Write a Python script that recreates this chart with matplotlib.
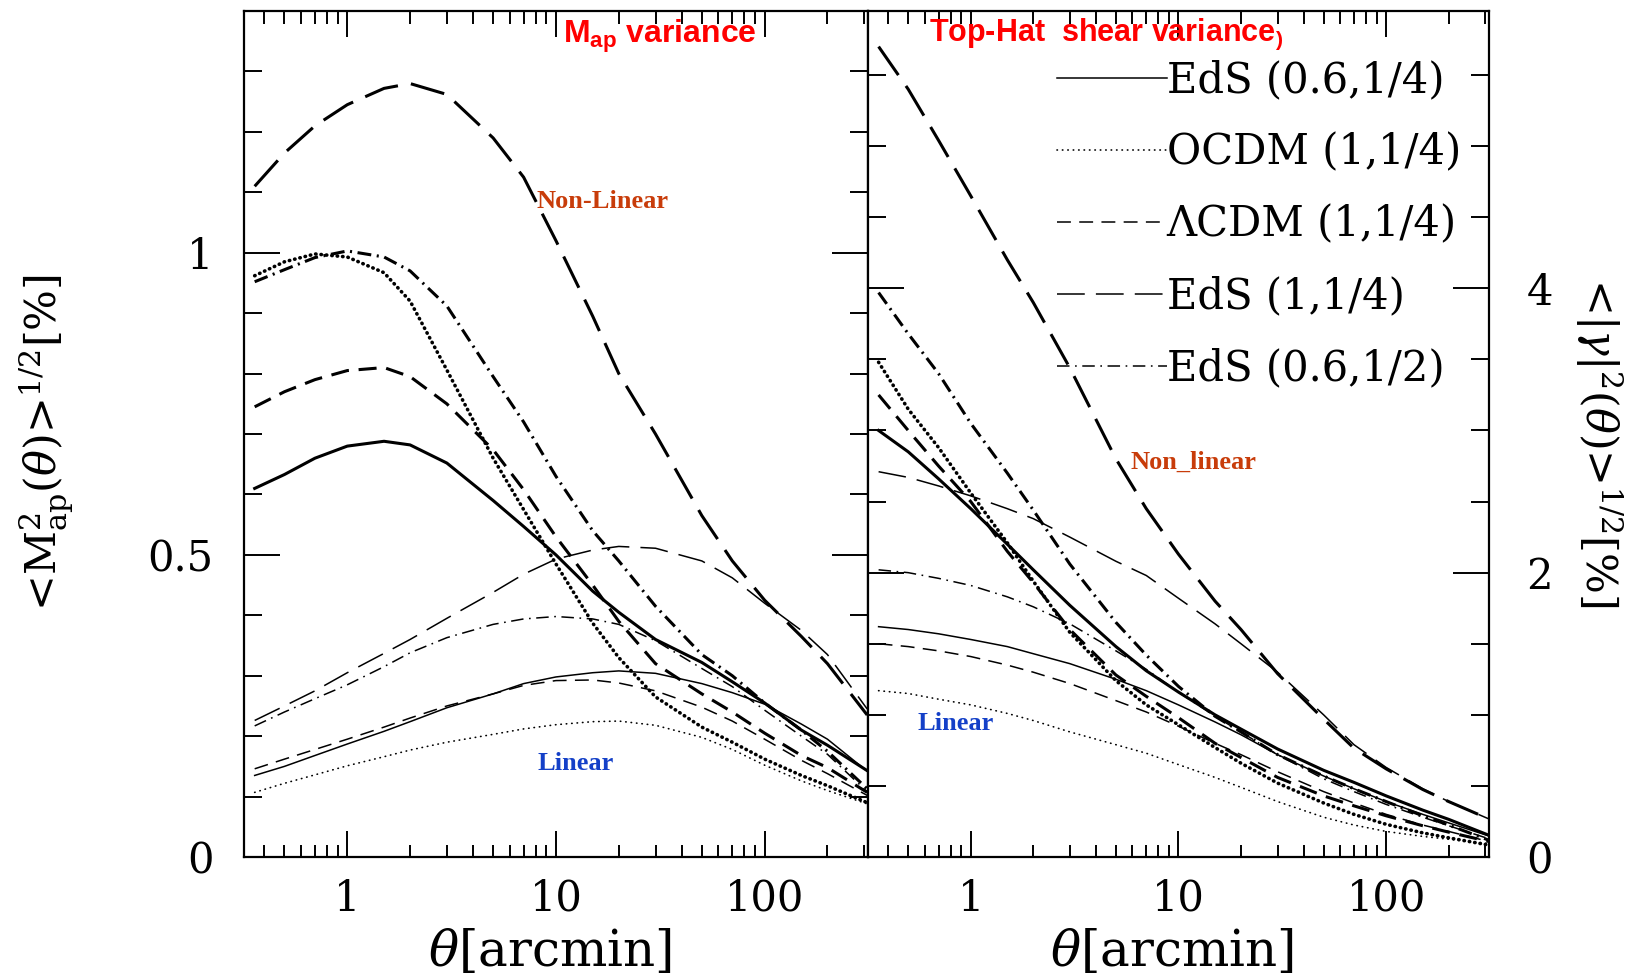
#two panel plot: aperture mass variance (left) and top-hat shear variance (right)
#thick lines are the non-linear predictions, thin lines the linear ones
import numpy as np
import matplotlib
matplotlib.use('Agg')
from matplotlib import pyplot as plt
from matplotlib.ticker import FixedLocator, FixedFormatter, NullFormatter

#angular scale in arcmin, shared by all curves
theta = [0.36, 0.5, 0.7, 1, 1.5, 2, 3, 5, 7, 10, 15, 20, 30, 50, 70, 100, 150, 200, 310]

#model names in legend order
models = ['EdS (0.6,1/4)', 'OCDM (1,1/4)', 'ΛCDM (1,1/4)', 'EdS (1,1/4)', 'EdS (0.6,1/2)']

#left panel: <M_ap^2>^1/2 [%], non-linear
map_nl_eds06_14 = [0.61, 0.633, 0.66, 0.68, 0.688, 0.682, 0.652, 0.59, 0.547, 0.50, 0.44, 0.405, 0.36, 0.322, 0.29, 0.255, 0.21, 0.185, 0.143]
map_nl_ocdm = [0.962, 0.985, 0.998, 0.993, 0.967, 0.92, 0.806, 0.66, 0.575, 0.485, 0.387, 0.33, 0.265, 0.215, 0.19, 0.162, 0.135, 0.118, 0.09]
map_nl_lcdm = [0.745, 0.77, 0.79, 0.805, 0.81, 0.795, 0.75, 0.674, 0.608, 0.53, 0.45, 0.39, 0.32, 0.27, 0.24, 0.205, 0.168, 0.148, 0.107]
map_nl_eds1_14 = [1.11, 1.165, 1.21, 1.245, 1.272, 1.28, 1.262, 1.19, 1.125, 1.02, 0.895, 0.80, 0.70, 0.565, 0.49, 0.425, 0.365, 0.32, 0.235]
map_nl_eds06_12 = [0.952, 0.972, 0.992, 1.003, 0.993, 0.97, 0.912, 0.795, 0.72, 0.63, 0.54, 0.49, 0.415, 0.335, 0.30, 0.255, 0.21, 0.175, 0.113]
#left panel, linear
map_l_eds06_14 = [0.135, 0.15, 0.168, 0.187, 0.208, 0.224, 0.247, 0.27, 0.287, 0.298, 0.305, 0.308, 0.304, 0.287, 0.272, 0.253, 0.22, 0.195, 0.142]
map_l_ocdm = [0.107, 0.122, 0.136, 0.151, 0.166, 0.177, 0.19, 0.203, 0.212, 0.219, 0.224, 0.225, 0.218, 0.198, 0.178, 0.152, 0.126, 0.11, 0.088]
map_l_lcdm = [0.146, 0.162, 0.178, 0.195, 0.215, 0.23, 0.25, 0.27, 0.284, 0.292, 0.293, 0.288, 0.275, 0.248, 0.225, 0.195, 0.16, 0.138, 0.102]
map_l_eds1_14 = [0.226, 0.25, 0.275, 0.305, 0.337, 0.36, 0.395, 0.438, 0.468, 0.493, 0.508, 0.514, 0.511, 0.49, 0.462, 0.42, 0.375, 0.335, 0.245]
map_l_eds06_12 = [0.217, 0.24, 0.262, 0.285, 0.315, 0.338, 0.363, 0.385, 0.394, 0.398, 0.394, 0.385, 0.358, 0.312, 0.282, 0.243, 0.2, 0.17, 0.108]

#right panel: <|gamma|^2>^1/2 [%], non-linear
th_nl_eds06_14 = [3.0, 2.85, 2.66, 2.45, 2.2, 2.02, 1.77, 1.48, 1.31, 1.16, 1.0, 0.9, 0.76, 0.61, 0.525, 0.43, 0.33, 0.265, 0.155]
th_nl_ocdm = [3.48, 3.15, 2.88, 2.56, 2.21, 1.94, 1.58, 1.24, 1.07, 0.93, 0.77, 0.66, 0.52, 0.38, 0.30, 0.23, 0.17, 0.135, 0.085]
th_nl_lcdm = [3.25, 3.0, 2.75, 2.5, 2.15, 1.93, 1.6, 1.28, 1.13, 0.98, 0.8, 0.7, 0.56, 0.43, 0.36, 0.29, 0.22, 0.175, 0.11]
th_nl_eds1_14 = [5.70, 5.4, 5.04, 4.65, 4.2, 3.9, 3.44, 2.8, 2.45, 2.13, 1.8, 1.6, 1.29, 0.97, 0.765, 0.62, 0.475, 0.39, 0.27]
th_nl_eds06_12 = [3.97, 3.68, 3.40, 3.05, 2.70, 2.44, 2.06, 1.65, 1.42, 1.2, 0.99, 0.88, 0.72, 0.57, 0.48, 0.39, 0.29, 0.225, 0.12]
#right panel, linear
th_l_eds06_14 = [1.62, 1.6, 1.57, 1.53, 1.48, 1.43, 1.36, 1.25, 1.17, 1.07, 0.95, 0.86, 0.72, 0.57, 0.48, 0.39, 0.3, 0.24, 0.15]
th_l_ocdm = [1.17, 1.15, 1.11, 1.07, 1.01, 0.96, 0.88, 0.79, 0.73, 0.65, 0.56, 0.49, 0.39, 0.28, 0.225, 0.18, 0.145, 0.125, 0.095]
th_l_lcdm = [1.5, 1.48, 1.45, 1.41, 1.35, 1.3, 1.22, 1.1, 1.02, 0.92, 0.8, 0.72, 0.6, 0.46, 0.38, 0.3, 0.225, 0.18, 0.11]
th_l_eds1_14 = [2.71, 2.67, 2.61, 2.54, 2.45, 2.38, 2.25, 2.08, 1.98, 1.82, 1.64, 1.5, 1.3, 1.0, 0.79, 0.63, 0.48, 0.39, 0.27]
th_l_eds06_12 = [2.02, 2.0, 1.96, 1.91, 1.83, 1.76, 1.64, 1.45, 1.32, 1.16, 0.99, 0.88, 0.72, 0.55, 0.46, 0.37, 0.28, 0.22, 0.13]

map_nl = [map_nl_eds06_14, map_nl_ocdm, map_nl_lcdm, map_nl_eds1_14, map_nl_eds06_12]
map_l = [map_l_eds06_14, map_l_ocdm, map_l_lcdm, map_l_eds1_14, map_l_eds06_12]
th_nl = [th_nl_eds06_14, th_nl_ocdm, th_nl_lcdm, th_nl_eds1_14, th_nl_eds06_12]
th_l = [th_l_eds06_14, th_l_ocdm, th_l_lcdm, th_l_eds1_14, th_l_eds06_12]

plt.rcParams['font.family'] = 'DejaVu Serif'
plt.rcParams['mathtext.fontset'] = 'dejavuserif'
#custom math font only used by the red titles
plt.rcParams['mathtext.rm'] = 'Liberation Sans:bold'
plt.rcParams['mathtext.bf'] = 'Liberation Sans:bold'
plt.rcParams['mathtext.it'] = 'Liberation Sans:bold'
plt.rcParams['lines.scale_dashes'] = False


#line style for each model, thick (non-linear) or thin (linear)
def line_style(i, thick):
    lw = 2.2 if thick else 1.1
    if i == 0:
        return dict(color='black', lw=lw, ls='-')
    if i == 1:
        return dict(color='black', lw=lw + 0.4 if thick else 1.2, dashes=(0.3, 3.6), dash_capstyle='round')
    if i == 2:
        return dict(color='black', lw=lw, dashes=(13, 7) if thick else (10, 6))
    if i == 3:
        return dict(color='black', lw=lw, dashes=(25, 9.5) if thick else (20, 8))
    return dict(color='black', lw=lw, dashes=(10, 4, 1.5, 4) if thick else (9, 4, 1.2, 4))


fig = plt.figure(figsize=(16.33, 9.77), dpi=100)
ax1 = fig.add_axes([0.1494, 0.1228, 0.3821, 0.8659])
ax2 = fig.add_axes([0.5315, 0.1228, 0.3803, 0.8659])

for ax, nl, lin in [(ax1, map_nl, map_l), (ax2, th_nl, th_l)]:
    for i in range(len(models)):
        ax.plot(theta, nl[i], **line_style(i, True))
        ax.plot(theta, lin[i], label=models[i], **line_style(i, False))
    ax.set_xscale('log')
    ax.set_xlim(10 ** -0.495, 10 ** 2.495)
    ax.xaxis.set_major_locator(FixedLocator([1, 10, 100]))
    ax.xaxis.set_major_formatter(FixedFormatter(['1', '10', '100']))
    minors = [m * 10.0 ** e for e in (-1, 0, 1, 2) for m in range(2, 10)]
    ax.xaxis.set_minor_locator(FixedLocator(minors))
    ax.xaxis.set_minor_formatter(NullFormatter())
    ax.tick_params(which='both', direction='in', top=True, bottom=True, left=True, right=True,
                   width=1.4, color='black')
    ax.tick_params(axis='x', which='major', length=19, pad=15, labelsize=30)
    ax.tick_params(axis='x', which='minor', length=9)
    ax.tick_params(axis='y', which='major', length=26)
    ax.tick_params(axis='y', which='minor', length=13)
    for sp in ax.spines.values():
        sp.set_linewidth(1.6)
    ax.text(0.49, -0.112, r'$\theta\mathrm{[arcmin]}$', transform=ax.transAxes,
            ha='center', va='center', fontsize=36)

#left panel axis
ax1.set_ylim(0, 1.4)
ax1.yaxis.set_major_locator(FixedLocator([0, 0.5, 1]))
ax1.yaxis.set_major_formatter(FixedFormatter(['0', '0.5', '1']))
ax1.yaxis.set_minor_locator(FixedLocator(np.arange(0, 1.45, 0.1)))
ax1.tick_params(axis='y', which='major', pad=22, labelsize=30)
ax1.text(-0.316, 0.49, '<' + r'$\mathrm{M}^2_{\mathrm{ap}}(\theta)$' + '>' + r'$^{1/2}$[%]',
         transform=ax1.transAxes, rotation=90, ha='center', va='center', fontsize=31)

#right panel axis, labels on the right
ax2.set_ylim(0, 5.95)
ax2.yaxis.set_major_locator(FixedLocator([0, 2, 4]))
ax2.yaxis.set_major_formatter(FixedFormatter(['0', '2', '4']))
ax2.yaxis.set_minor_locator(FixedLocator(np.arange(0, 6.0, 0.5)))
ax2.tick_params(axis='y', which='both', labelleft=False, labelright=True)
ax2.tick_params(axis='y', which='major', pad=27, labelsize=30)
ax2.text(1.177, 0.49, '<' + r'$|\gamma|^2(\theta)$' + '>' + r'$^{1/2}$[%]',
         transform=ax2.transAxes, rotation=-90, ha='center', va='center', fontsize=31)

ax2.legend(loc='upper left', bbox_to_anchor=(0.305, 0.943), frameon=False, fontsize=30,
           handlelength=2.62, handletextpad=0.0, labelspacing=0.72, borderpad=0, borderaxespad=0)

#panel titles and annotations
ax1.text(0.667, 0.970, r'$\mathbf{M}_{\mathbf{ap}}$ variance', transform=ax1.transAxes, ha='center',
         va='center', color='red', fontsize=23, fontfamily='Liberation Sans', fontweight='bold',
         math_fontfamily='custom')
ax2.text(0.098, 0.972, r'Top-Hat  shear variance$_{\mathbf{)}}$', transform=ax2.transAxes, ha='left',
         va='center', color='red', fontsize=22, fontfamily='Liberation Sans', fontweight='bold',
         math_fontfamily='custom')
ax1.text(0.574, 0.775, 'Non-Linear', transform=ax1.transAxes, ha='center', va='center',
         color='#c83c0a', fontsize=19, fontfamily='Liberation Serif', fontweight='bold')
ax1.text(0.532, 0.111, 'Linear', transform=ax1.transAxes, ha='center', va='center',
         color='#1440c8', fontsize=19, fontfamily='Liberation Serif', fontweight='bold')
ax2.text(0.525, 0.467, 'Non_linear', transform=ax2.transAxes, ha='center', va='center',
         color='#c83c0a', fontsize=19, fontfamily='Liberation Serif', fontweight='bold')
ax2.text(0.142, 0.158, 'Linear', transform=ax2.transAxes, ha='center', va='center',
         color='#1440c8', fontsize=19, fontfamily='Liberation Serif', fontweight='bold')

fig.savefig('out.png', dpi=100)
